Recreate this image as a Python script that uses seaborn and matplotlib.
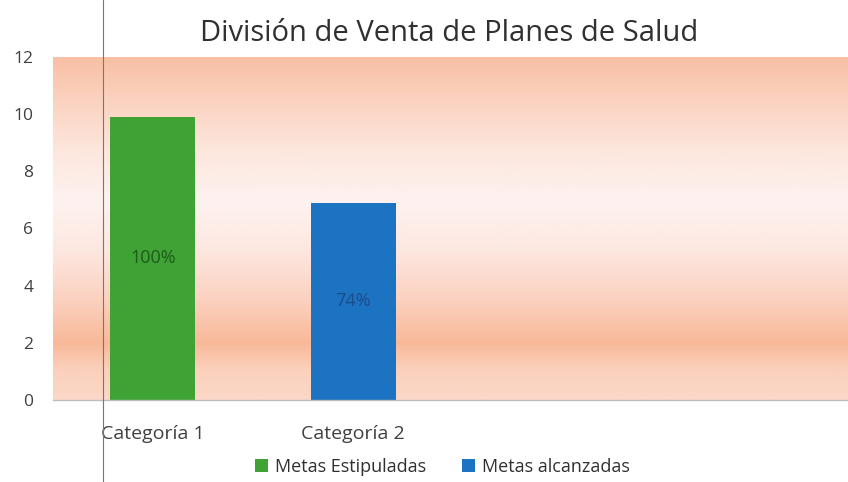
import numpy as np
import pandas as pd
import matplotlib
matplotlib.use("Agg")
import matplotlib.pyplot as plt
from matplotlib.colors import LinearSegmentedColormap
from matplotlib.lines import Line2D
from matplotlib.patches import Patch
import seaborn as sns

# ---- data ----
categories = ["Categoría 1", "Categoría 2"]
series_names = ["Metas Estipuladas", "Metas alcanzadas"]
values = [9.9, 6.9]
bar_labels = ["100%", "74%"]
y_ticks = [0, 2, 4, 6, 8, 10, 12]
title = "División de Venta de Planes de Salud"

colors = ["#3ea334", "#1b73c1"]
label_colors = ["#1e5a1b", "#1d4c88"]

df = pd.DataFrame({"Categoría": categories, "Serie": series_names, "Valor": values})

sns.set_theme(style="white")
plt.rcParams["font.family"] = ["Open Sans", "DejaVu Sans"]

fig = plt.figure(figsize=(8.48, 4.82), dpi=100)
fig.patch.set_facecolor("white")
ax = fig.add_axes([0.062, 0.170, 0.945, 0.712])

# background gradient (peach bands)
stops = [
    (0.000, "#fbd8c8"),
    (0.087, "#fbd0bc"),
    (0.165, "#f8b999"),
    (0.290, "#fbd1bf"),
    (0.440, "#fde8e1"),
    (0.580, "#fdf2f0"),
    (0.730, "#fde6dc"),
    (0.875, "#fbd2bf"),
    (1.000, "#f8bfa3"),
]
cmap = LinearSegmentedColormap.from_list("peach", stops)
grad = np.linspace(0, 1, 256).reshape(-1, 1)
ax.imshow(grad, aspect="auto", cmap=cmap, origin="lower",
          extent=[0, 1, 0, 1], transform=ax.transAxes, zorder=0)

sns.barplot(data=df, x="Categoría", y="Valor", hue="Serie", dodge=False,
            palette=colors, width=0.425, ax=ax, legend=False, zorder=2,
            saturation=1, linewidth=0, edgecolor="none")

for i, (v, lab) in enumerate(zip(values, bar_labels)):
    ax.text(i, v / 2, lab, ha="center", va="center", fontsize=13,
            color=label_colors[i], zorder=3)

ax.set_xlim(-0.5, 3.5)
ax.set_ylim(0, 12)
ax.set_yticks(y_ticks)
ax.set_yticklabels([str(t) for t in y_ticks], fontsize=12.5, color="#404040")
ax.set_xticks([0, 1])
ax.set_xticklabels(categories, fontsize=14, color="#404040")
ax.tick_params(axis="x", pad=18, length=0)
ax.tick_params(axis="y", pad=14, length=0)
ax.set_xlabel("")
ax.set_ylabel("")
for s in ["top", "right", "left"]:
    ax.spines[s].set_visible(False)
ax.spines["bottom"].set_color("#bdbdbd")
ax.spines["bottom"].set_linewidth(1.0)

fig.text(0.53, 0.93, title, ha="center", va="center", fontsize=21, color="#303030")

handles = [Patch(facecolor=c, edgecolor="none") for c in colors]
fig.legend(handles, series_names, loc="center", bbox_to_anchor=(0.522, 0.032),
           ncol=2, frameon=False, fontsize=13, handlelength=0.7,
           handleheight=0.7, handletextpad=0.4, columnspacing=2.0,
           labelcolor="#303030")

# scan fold line
fig.add_artist(Line2D([103 / 848, 103 / 848], [0, 1], transform=fig.transFigure,
                      color="#777777", linewidth=0.8))

fig.savefig("out.png", dpi=100)
